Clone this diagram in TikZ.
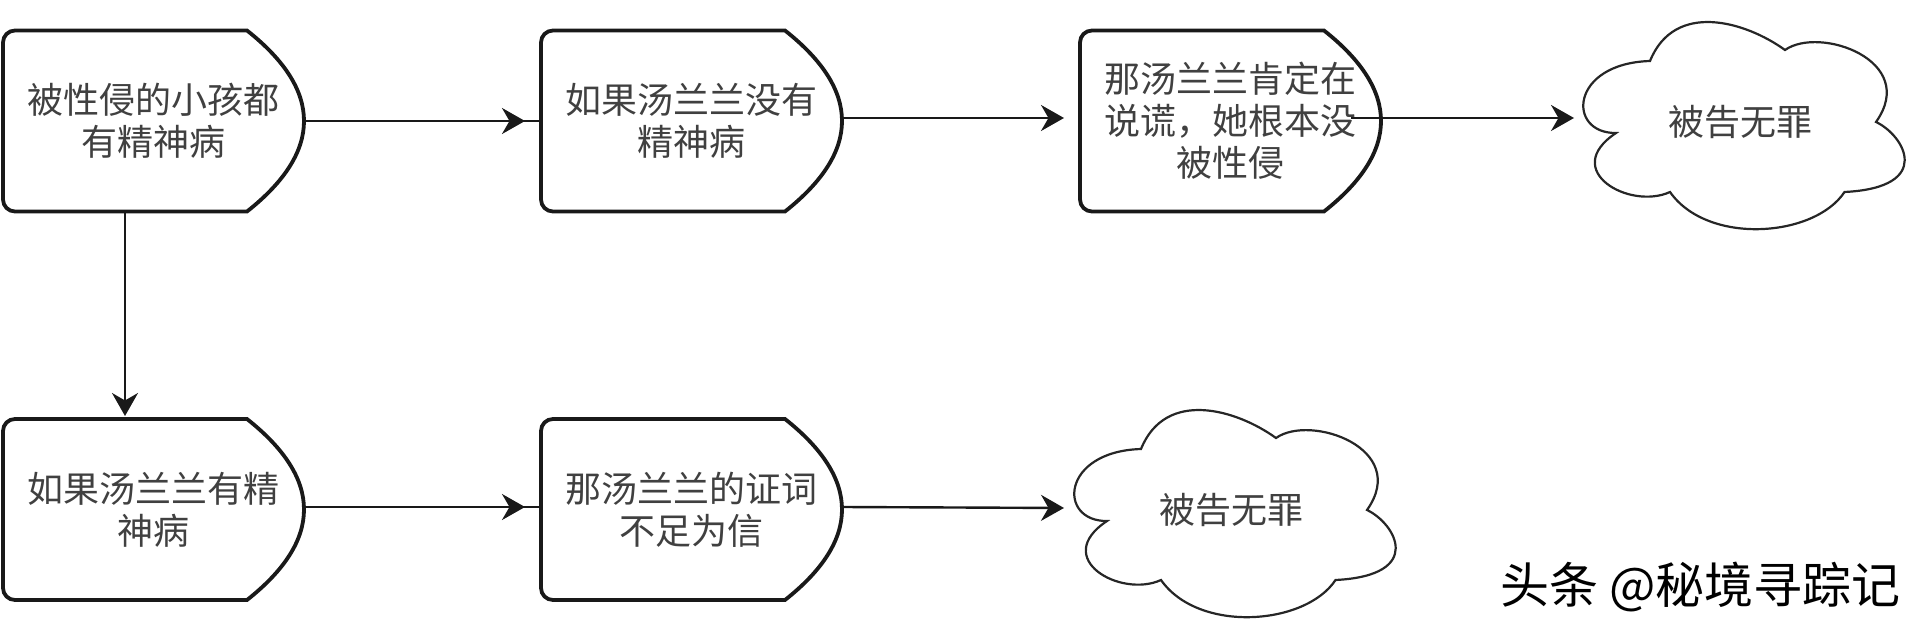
\documentclass[tikz,border=0pt]{standalone}
\usepackage{fontspec}
\setmainfont{Noto Sans CJK SC}
\usetikzlibrary{arrows.meta, positioning}

\tikzset{
    boxline/.style={draw=black!90, line width=3.8pt},
    cloudline/.style={draw=black!85, line width=2.2pt},
    flowline/.style={draw=black!90, line width=2.4pt},
    flowarrow/.style={flowline, -{Stealth[length=23pt,width=26pt]}},
    labeltext/.style={text=black!75, font=\fontsize{36}{42}\selectfont, align=center, outer sep=0pt, inner sep=0pt},
    delaybox/.style={labeltext, minimum width=301pt, minimum height=181pt,
        append after command={\pgfextra{
            \draw[boxline] ([xshift=-57pt]\tikzlastnode.north east) [rounded corners=12pt] -- (\tikzlastnode.north west) -- (\tikzlastnode.south west) [sharp corners] -- ([xshift=-57pt]\tikzlastnode.south east)
                .. controls ([shift={(19pt,60pt)}]\tikzlastnode.south east) and ([shift={(19pt,-60pt)}]\tikzlastnode.north east) .. ([xshift=-57pt]\tikzlastnode.north east) -- cycle;
        }}},
    cloudbox/.style={labeltext, minimum width=325pt, minimum height=207pt,
        append after command={\pgfextra{
            \draw[cloudline, shift={(\tikzlastnode.center)}, shift={(4.5,-3.5)}] (-128.5,-7.5)
                .. controls (-178,-8) and (-175,62) .. (-94.5,64.5)
                .. controls (-70,125) and (1,104) .. (40.5,75.5)
                .. controls (75,100) and (175,65) .. (131.5,3.5)
                .. controls (160,-10) and (190,-62) .. (100,-66.5)
                .. controls (70,-112) and (-37,-120) .. (-74.5,-66.5)
                .. controls (-115,-85) and (-185,-45) .. (-128.5,-7.5) -- cycle;
        }}}
}

\begin{document}
\begin{tikzpicture}[x=1pt, y=1pt]

    \useasboundingbox (0,0) rectangle (1920,-631);

    % Nodes for the upper row
    \node (allChildren) [delaybox] at (153.5,-121) {被性侵的小孩都\\有精神病};
    \node (notIll) [delaybox, right=237pt of allChildren] {如果汤兰兰没有\\精神病};
    \node (lying) [delaybox, right=238pt of notIll] {那汤兰兰肯定在\\说谎，她根本没\\被性侵};
    \node (innocentA) [cloudbox, right=196.5pt of lying, yshift=-1pt] {被告无罪};

    % Nodes for the lower row
    \node (isIll) [delaybox, below=207.5pt of allChildren] {如果汤兰兰有精\\神病};
    \node (noTrust) [delaybox, right=237pt of isIll] {那汤兰兰的证词\\不足为信};
    \node (innocentB) [cloudbox, right=226.5pt of noTrust, yshift=-0.5pt] {被告无罪};

    % Watermark
    \node (mark) [anchor=east, inner sep=0pt, font=\fontsize{49}{52}\selectfont] at (1901,-587) {头条 @秘境寻踪记};

    % Draw arrows of the upper row
    \draw[flowline] (allChildren) -- (notIll);
    \draw[flowarrow, shorten >=16pt] (allChildren) -- (notIll);
    \draw[flowarrow, shorten >=16pt] ([yshift=3pt]notIll.east) -- ([yshift=3pt]lying.west);
    \draw[flowarrow, shorten >=3.5pt] ([shift={(-30pt,3pt)}]lying.east) -- ([yshift=4pt]innocentA.west);

    % Draw arrows of the lower row
    \draw[flowarrow, shorten >=3pt] ([xshift=-28.5pt]allChildren.south) -- ([xshift=-28.5pt]isIll.north);
    \draw[flowline] ([yshift=2.5pt]isIll.east) -- ([yshift=2.5pt]noTrust.west);
    \draw[flowarrow, shorten >=16pt] ([yshift=2.5pt]isIll.east) -- ([yshift=2.5pt]noTrust.west);
    \draw[flowarrow, shorten >=4.5pt] ([yshift=2.5pt]noTrust.east) -- ([yshift=2pt]innocentB.west);

\end{tikzpicture}
\end{document}
